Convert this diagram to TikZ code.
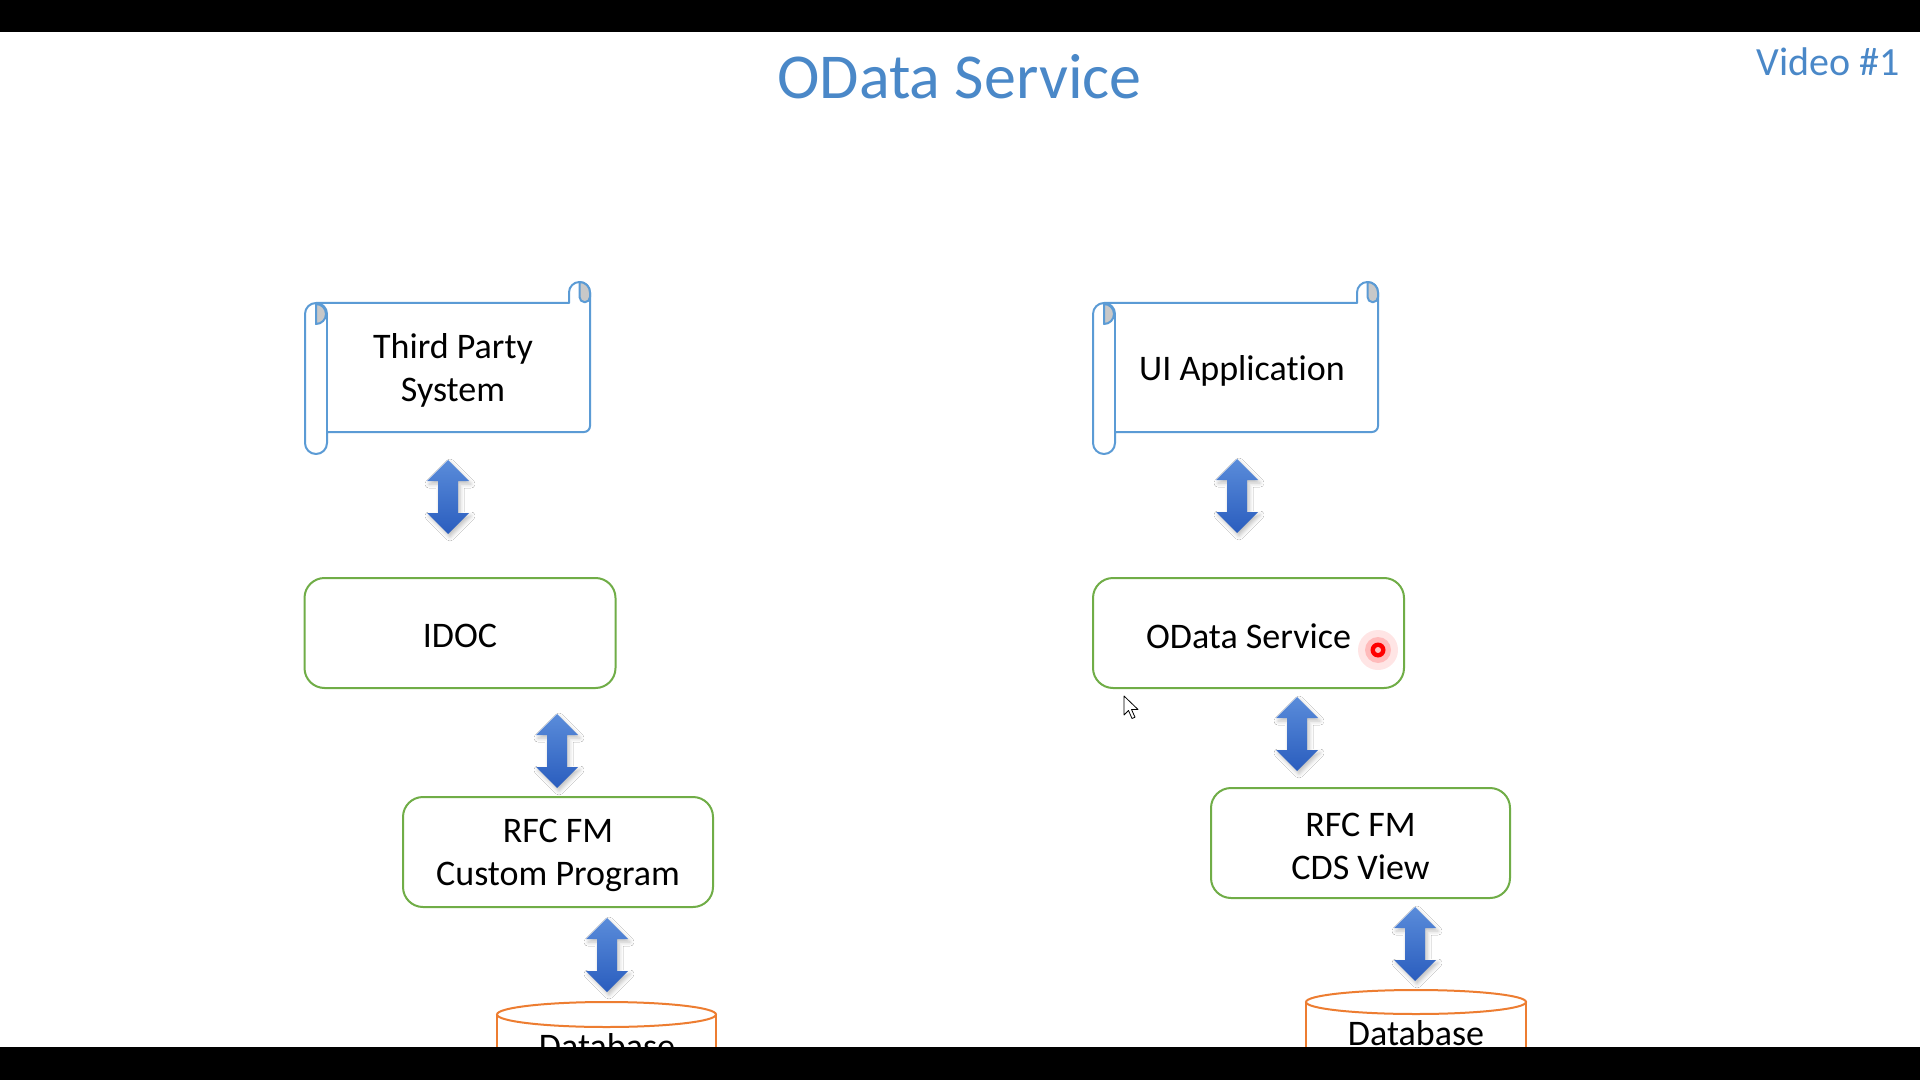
\documentclass[tikz,border=0pt]{standalone}
\usepackage{fontspec}
\setmainfont{Carlito}[Ligatures=CommonOff]
\usetikzlibrary{shadows.blur}
\definecolor{scrollblue}{HTML}{5B9BD5}
\definecolor{boxgreen}{HTML}{70AD47}
\definecolor{dborange}{HTML}{ED7D31}
\definecolor{titleblue}{HTML}{4A88C8}
\definecolor{arrowtop}{HTML}{5A8CDA}
\definecolor{arrowbot}{HTML}{2A5DBE}
\definecolor{curlgrey}{HTML}{C8C8C8}
\tikzset{
  every node/.style={font=\fontsize{18}{21.5}\selectfont, text=black},
  gbox/.style={draw=boxgreen, line width=1pt, rounded corners=10pt, fill=white, inner sep=0pt},
  boxtext/.style={align=center, inner sep=0pt},
  scrollline/.style={draw=scrollblue, line width=1pt, line join=round},
  dbline/.style={draw=dborange, line width=1pt},
  blockarrow/.style={top color=arrowtop, bottom color=arrowbot, draw=none,
    blur shadow={shadow xshift=1pt, shadow yshift=-1.5pt, shadow opacity=25, shadow blur radius=2pt}},
  pics/scroll/.style={code={
    \fill[white] (11,21) -- (285,21) -- (285,150) -- (11,150) -- cycle;
    \draw[scrollline] (22,32) arc[start angle=0, end angle=-180, radius=11]
      -- (0,161) arc[start angle=180, end angle=0, radius=11]
      -- (22,150) -- (279,150) arc[start angle=90, end angle=0, radius=6]
      -- (285,10.5) arc[start angle=0, end angle=-180, radius=10.5]
      -- (264,21) -- (11,21);
    \draw[scrollline] (22,32) -- (22,150);
    \filldraw[fill=curlgrey, scrollline] (11,22) arc[start angle=-90, end angle=90, radius=10] -- cycle;
    \filldraw[fill=curlgrey, scrollline] (274.5,0) arc[start angle=-90, end angle=0, radius=10.5]
      -- (285,15) arc[start angle=0, end angle=180, radius=5.25] -- cycle;
  }},
  pics/darrow/.style={code={
    \path[blockarrow] (0,0) -- (21,21) -- (10,21) -- (10,53) -- (21,53) -- (0,74)
      -- (-21,53) -- (-10,53) -- (-10,21) -- (-21,21) -- cycle;
  }},
}
\begin{document}
\begin{tikzpicture}[x=0.5pt, y=-0.5pt]
\useasboundingbox (0,0) rectangle (1920,1080);
\fill[white] (0,0) rectangle (1920,1080);

% title
\node[font=\fontsize{32}{38}\selectfont, text=titleblue, anchor=base, inner sep=0pt] (title) at (959.5,99) {OData Service};
\node[font=\fontsize{20}{24}\selectfont, text=titleblue, anchor=base west, inner sep=0pt] (video) at (1756,76) {Video \#1};

% scrolls
\pic at (305,282) {scroll};
\node[boxtext] (tps) at (453,370.5) {Third Party\\System};
\pic at (1093,282) {scroll};
\node[boxtext] (uia) at (1242,371) {UI Application};

% green boxes
\node[gbox, minimum width=155.5pt, minimum height=55pt] (idoc) at (460,633) {};
\node[boxtext] (idoct) at ([yshift=-1.5pt]idoc.center) {IDOC};
\node[gbox, minimum width=155pt, minimum height=55pt] (rfcl) at (558,852) {};
\node[boxtext] (rfclt) at ([yshift=-1.5pt]rfcl.center) {RFC FM\\Custom Program};
\node[gbox, minimum width=155.5pt, minimum height=55pt] (odata) at (1248.5,633) {};
\node[boxtext] (odatat) at ([yshift=-1.5pt]odata.center) {OData Service};
\node[gbox, minimum width=149.5pt, minimum height=55pt] (rfcr) at (1360.5,843) {};
\node[boxtext] (rfcrt) at ([yshift=-1.5pt]rfcr.center) {RFC FM\\CDS View};

% block arrows
\pic at (448,460) {darrow};
\pic at (557,714) {darrow};
\pic at (607,918) {darrow};
\pic at (1237,459) {darrow};
\pic at (1297,697) {darrow};
\pic at (1415,907) {darrow};

% databases
\fill[white] (497,1014.5) rectangle (716,1080);
\draw[dbline] (497,1014.5) -- (497,1080);
\draw[dbline] (716,1014.5) -- (716,1080);
\draw[dbline] (606.5,1014.5) ellipse[x radius=109.5, y radius=12.5];
\node[anchor=base, inner sep=0pt] (dbl) at (607,1058) {Database};

\fill[white] (1306,1002) rectangle (1526,1080);
\draw[dbline] (1306,1002) -- (1306,1080);
\draw[dbline] (1526,1002) -- (1526,1080);
\draw[dbline] (1416,1002) ellipse[x radius=110, y radius=12];
\node[anchor=base, inner sep=0pt] (dbr) at (1416,1045) {Database};

% pointer marks
\fill[red, opacity=0.10] (1378,650) circle[radius=20];
\fill[red, opacity=0.18] (1378,650) circle[radius=13];
\fill[red] (1378,650) circle[radius=7.5];
\fill[red!25!white] (1378,650) circle[radius=3];
\filldraw[fill=white, draw=black, line width=0.4pt, line join=round] (1124,696) -- ++(0,19) -- ++(4.5,-4.5) -- ++(3.5,8) -- ++(3,-1.3) -- ++(-3.5,-7.7) -- ++(6.5,0) -- cycle;

% video bars
\fill[black] (0,0) rectangle (1920,32);
\fill[black] (0,1047) rectangle (1920,1080);
\end{tikzpicture}
\end{document}
